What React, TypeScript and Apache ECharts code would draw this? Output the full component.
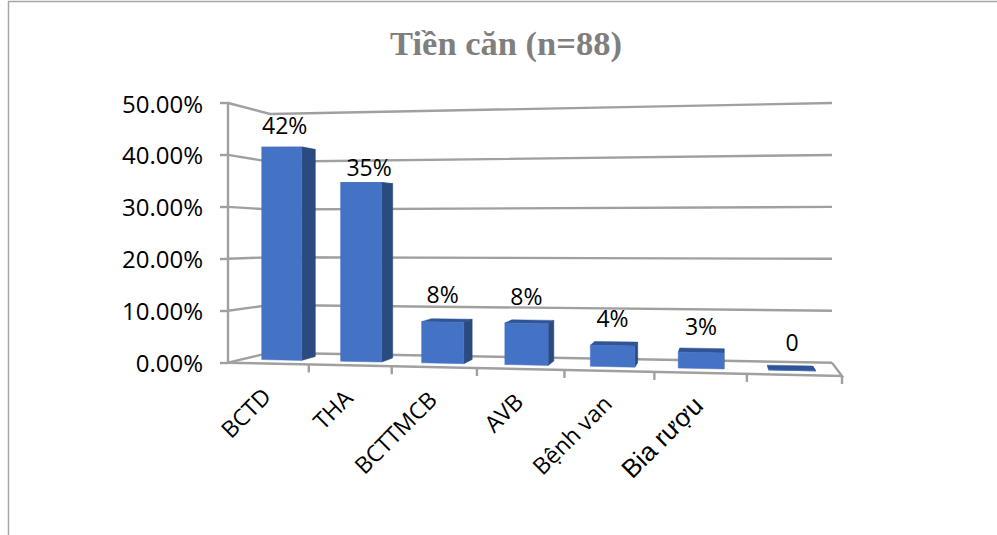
import React, { useEffect, useRef } from "react";
import * as echarts from "echarts";

// Chart content
const categories = ["BCTD", "THA", "BCTTMCB", "AVB", "Bệnh van", "Bia rượu", ""];
const historyPercent = [42, 35, 8, 8, 4, 3, 0];
const valueLabels = ["42%", "35%", "8%", "8%", "4%", "3%", "0"];
const gridValues = [0, 10, 20, 30, 40, 50];

// Plot rectangle, the plane of the value axis
const PLOT = { left: 228, top: 103, width: 614, height: 259.7 };

// Corners of the tilted box the columns stand in
const FLOOR = {
  frontLeft: [228, 362.7],
  frontRight: [842, 376],
  backLeft: [270, 352.7],
  backRight: [832, 362.7],
};
const HEIGHTS = { frontLeft: 259.7, frontRight: 275, backLeft: 238.7, backRight: 259.7 };
const FORESHORTEN = 1.1;
const COL_FRONT = 0.35;
const COL_BACK = 0.72;
const COL_HALF_WIDTH = 0.255;

const lerp = (a: number, b: number, k: number) => a + (b - a) * k;

// t: 0..1 along the category axis, v: 0..1 up the value axis, z: 0 front .. 1 back
function project(t: number, v: number, z: number): number[] {
  const u = t / (t + FORESHORTEN * (1 - t));
  const x = lerp(lerp(FLOOR.frontLeft[0], FLOOR.frontRight[0], u), lerp(FLOOR.backLeft[0], FLOOR.backRight[0], u), z);
  const y = lerp(lerp(FLOOR.frontLeft[1], FLOOR.frontRight[1], u), lerp(FLOOR.backLeft[1], FLOOR.backRight[1], u), z);
  const h = lerp(lerp(HEIGHTS.frontLeft, HEIGHTS.frontRight, u), lerp(HEIGHTS.backLeft, HEIGHTS.backRight, u), z);
  return [x, y - h * v];
}

const toT = (px: number) => (px - PLOT.left) / PLOT.width;
const toV = (py: number) => (PLOT.top + PLOT.height - py) / PLOT.height;

const LINE_COLOR = "#a0a0a0";
const LINE_WIDTH = 2.4;
const WALL_LINE = { stroke: LINE_COLOR, lineWidth: LINE_WIDTH, fill: "none" };
const TEXT_FONT = '"Open Sans", sans-serif';

// Nudges for the value labels above the columns
const labelShift = [[3, -22], [8, -16], [0, -28], [0, -27], [0, -28], [0, -27], [0, -28]];

function renderGridLine(_: any, api: any) {
  const v = toV(api.coord([0, api.value(0)])[1]);
  return {
    type: "polyline",
    shape: { points: [project(0, v, 0), project(0, v, 1), project(1, v, 1)] },
    style: WALL_LINE,
  };
}

function renderFloor(params: any, api: any) {
  const center = api.coord([api.value(0), 0]);
  const band = api.size([1, 0])[0];
  const i = params.dataIndex;
  const children: any[] = [];
  const tick = (t: number) => {
    const p = project(t, 0, 0);
    children.push({
      type: "line",
      shape: { x1: p[0], y1: p[1], x2: p[0], y2: p[1] + 8 },
      style: { stroke: LINE_COLOR, lineWidth: LINE_WIDTH },
    });
  };
  if (i > 0) tick(toT(center[0] - band / 2));
  if (i === categories.length - 1) {
    tick(1);
    children.push({
      type: "polyline",
      shape: { points: [project(0, 0, 0), project(1, 0, 0), project(1, 0, 1)] },
      style: WALL_LINE,
    });
  }
  const anchor = project(toT(center[0]), 0, 0);
  const name = categories[i];
  if (name) {
    children.push({
      type: "text",
      x: anchor[0] - 2,
      y: anchor[1] + 28,
      rotation: Math.PI / 4,
      style: {
        text: name,
        fill: "#000000",
        align: "right",
        verticalAlign: "middle",
        fontFamily: name === "Bia rượu" ? '"Liberation Sans", sans-serif' : TEXT_FONT,
        fontSize: name === "Bia rượu" ? 26 : 23,
      },
    });
  }
  return { type: "group", children };
}

function renderColumn(params: any, api: any) {
  const i = params.dataIndex;
  const base = api.coord([api.value(0), 0]);
  const top = api.coord([api.value(0), api.value(1)]);
  const band = api.size([1, 0])[0];
  const tl = toT(base[0] - band * COL_HALF_WIDTH);
  const tr = toT(base[0] + band * COL_HALF_WIDTH);
  const v = toV(top[1]);

  const face = (points: number[][], fill: string) => ({
    type: "polygon",
    shape: { points },
    style: { fill, stroke: fill, lineWidth: 0.5 },
  });

  const topFace = face(
    [project(tl, v, COL_FRONT), project(tr, v, COL_FRONT), project(tr, v, COL_BACK), project(tl, v, COL_BACK)],
    "#2f5597"
  );
  const sideFace = face(
    [project(tr, 0, COL_FRONT), project(tr, v, COL_FRONT), project(tr, v, COL_BACK), project(tr, 0, COL_BACK)],
    "#2a4a80"
  );
  const frontFace = face(
    [project(tl, 0, COL_FRONT), project(tr, 0, COL_FRONT), project(tr, v, COL_FRONT), project(tl, v, COL_FRONT)],
    "#4472c4"
  );

  const mid = project(toT(base[0]), v, COL_FRONT);
  const label = {
    type: "text",
    x: mid[0] + labelShift[i][0],
    y: mid[1] + labelShift[i][1],
    style: {
      text: valueLabels[i],
      fill: "#000000",
      align: "center",
      verticalAlign: "middle",
      fontFamily: TEXT_FONT,
      fontSize: 23,
    },
  };
  return { type: "group", children: [topFace, sideFace, frontFace, label] };
}

export default function App() {
  const ref = useRef<HTMLDivElement>(null);

  useEffect(() => {
    if (!ref.current) return;
    const chart = echarts.init(ref.current, undefined, { renderer: "svg" });
    chart.setOption({
      animation: false,
      backgroundColor: "#ffffff",
      title: {
        text: "Tiền căn (n=88)",
        left: 506,
        top: 20,
        textAlign: "center",
        textStyle: { fontFamily: '"Liberation Serif", serif', fontWeight: "bold", fontSize: 34.5, color: "#7f7f7f" },
        padding: [5, 10, 5, 0],
      },
      graphic: [
        { type: "line", shape: { x1: 8, y1: 1.5, x2: 997, y2: 1.5 }, style: { stroke: "#a6a6a6", lineWidth: 1.5 } },
        { type: "line", shape: { x1: 8.5, y1: 1, x2: 8.5, y2: 535 }, style: { stroke: "#a6a6a6", lineWidth: 1.5 } },
      ],
      grid: { ...PLOT, containLabel: false },
      xAxis: { type: "category", data: categories, show: false },
      yAxis: {
        type: "value",
        min: 0,
        max: 50,
        interval: 10,
        splitLine: { show: false },
        axisLine: { show: true, lineStyle: { color: LINE_COLOR, width: LINE_WIDTH } },
        axisTick: { show: true, length: 8, lineStyle: { color: LINE_COLOR, width: LINE_WIDTH } },
        axisLabel: {
          margin: 25,
          fontFamily: TEXT_FONT,
          fontSize: 24,
          color: "#000000",
          formatter: (val: number) => `${val.toFixed(2)}%`,
        },
      },
      series: [
        {
          type: "custom",
          name: "wall",
          coordinateSystem: "cartesian2d",
          data: gridValues.map((g) => [g]),
          encode: { y: 0 },
          renderItem: renderGridLine,
          silent: true,
          z: 1,
        },
        {
          type: "custom",
          name: "floor",
          coordinateSystem: "cartesian2d",
          data: categories.map((_, i) => [i, 0]),
          encode: { x: 0, y: 1 },
          renderItem: renderFloor,
          silent: true,
          z: 2,
        },
        {
          type: "custom",
          name: "Tiền căn",
          coordinateSystem: "cartesian2d",
          data: historyPercent.map((v, i) => [i, v]),
          encode: { x: 0, y: 1 },
          renderItem: renderColumn,
          z: 3,
        },
      ],
    });
    return () => chart.dispose();
  }, []);

  return <div ref={ref} style={{ position: "absolute", left: 0, top: 0, width: 997, height: 535 }} />;
}
